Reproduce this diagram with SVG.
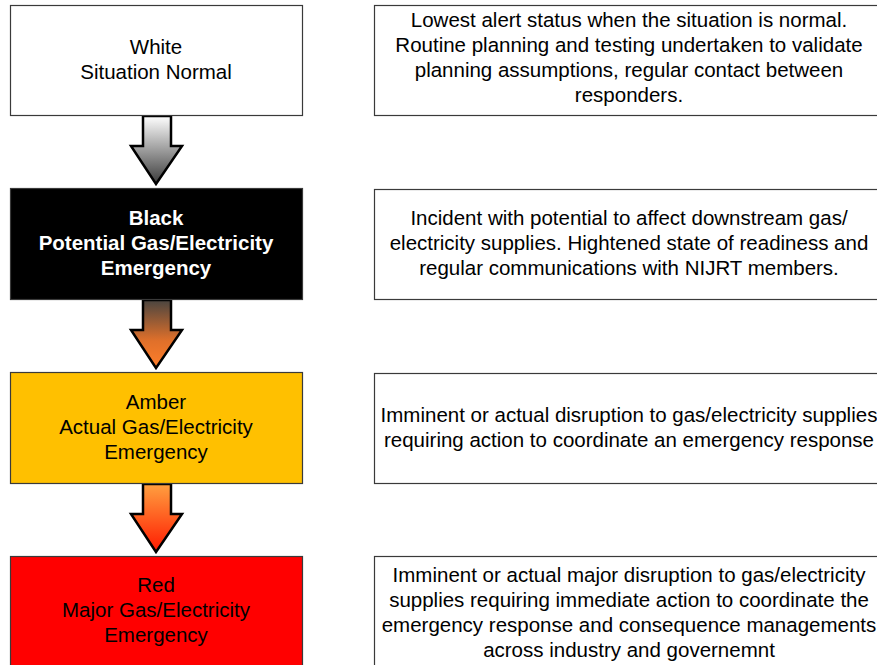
<svg xmlns="http://www.w3.org/2000/svg" width="877" height="665" viewBox="0 0 877 665">
<defs>
<linearGradient id="g1" x1="0" y1="0" x2="0" y2="1"><stop offset="0" stop-color="#ffffff"/><stop offset="1" stop-color="#3a3a3a"/></linearGradient>
<linearGradient id="g2" x1="0" y1="0" x2="0" y2="1"><stop offset="0" stop-color="#4a4540"/><stop offset="0.6" stop-color="#e0702a"/><stop offset="1" stop-color="#ff7e2a"/></linearGradient>
<linearGradient id="g3" x1="0" y1="0" x2="0" y2="1"><stop offset="0" stop-color="#ffa040"/><stop offset="1" stop-color="#ff1a00"/></linearGradient>
</defs>
<style>
.box{stroke:#3a3a3a;stroke-width:1.2}
.t{font-family:"Liberation Sans",Arial,sans-serif;font-size:20.5px;text-anchor:middle;fill:#000}
.tw{fill:#fff;font-weight:bold}
.arr{stroke:#000;stroke-width:2.5;stroke-linejoin:miter}
</style>
<g id="connectors">
<polygon class="arr" fill="url(#g1)" points="143,116 171,116 171,146 182,146 156,184 131,146 143,146"/>
<polygon class="arr" fill="url(#g2)" points="143,300 171,300 171,330 182,330 156,368 131,330 143,330"/>
<polygon class="arr" fill="url(#g3)" points="143,484 171,484 171,514 182,514 156,552 131,514 143,514"/>
</g>
<g id="white">
<rect class="box" x="10.5" y="5.5" width="292" height="110" fill="#fff"/>
<text class="t" x="156" y="54">White</text>
<text class="t" x="156" y="79">Situation Normal</text>
</g>
<g id="white-desc">
<rect class="box" x="374.5" y="5.5" width="510" height="110" fill="#fff"/>
<text class="t" x="629" y="27">Lowest alert status when the situation is normal.</text>
<text class="t" x="629" y="52">Routine planning and testing undertaken to validate</text>
<text class="t" x="629" y="77">planning assumptions, regular contact between</text>
<text class="t" x="629" y="102">responders.</text>
</g>
<g id="black">
<rect class="box" x="10.5" y="188.5" width="292" height="111" fill="#000"/>
<text class="t tw" x="156" y="225">Black</text>
<text class="t tw" x="156" y="250">Potential Gas/Electricity</text>
<text class="t tw" x="156" y="275">Emergency</text>
</g>
<g id="black-desc">
<rect class="box" x="374.5" y="189.5" width="510" height="110" fill="#fff"/>
<text class="t" x="629" y="225">Incident with potential to affect downstream gas/</text>
<text class="t" x="629" y="250">electricity supplies. Hightened state of readiness and</text>
<text class="t" x="629" y="275">regular communications with NIJRT members.</text>
</g>
<g id="amber">
<rect class="box" x="10.5" y="372.5" width="292" height="111" fill="#ffc000"/>
<text class="t" x="156" y="409">Amber</text>
<text class="t" x="156" y="434">Actual Gas/Electricity</text>
<text class="t" x="156" y="459">Emergency</text>
</g>
<g id="amber-desc">
<rect class="box" x="374.5" y="373.5" width="510" height="110" fill="#fff"/>
<text class="t" x="629" y="422">Imminent or actual disruption to gas/electricity supplies</text>
<text class="t" x="629" y="447">requiring action to coordinate an emergency response</text>
</g>
<g id="red">
<rect class="box" x="10.5" y="556.5" width="292" height="112" fill="#ff0000"/>
<text class="t" x="156" y="592">Red</text>
<text class="t" x="156" y="617">Major Gas/Electricity</text>
<text class="t" x="156" y="642">Emergency</text>
</g>
<g id="red-desc">
<rect class="box" x="374.5" y="556.5" width="510" height="112" fill="#fff"/>
<text class="t" x="629" y="582">Imminent or actual major disruption to gas/electricity</text>
<text class="t" x="629" y="607">supplies requiring immediate action to coordinate the</text>
<text class="t" x="629" y="632">emergency response and consequence managements</text>
<text class="t" x="629" y="657">across industry and governemnt</text>
</g>
</svg>
